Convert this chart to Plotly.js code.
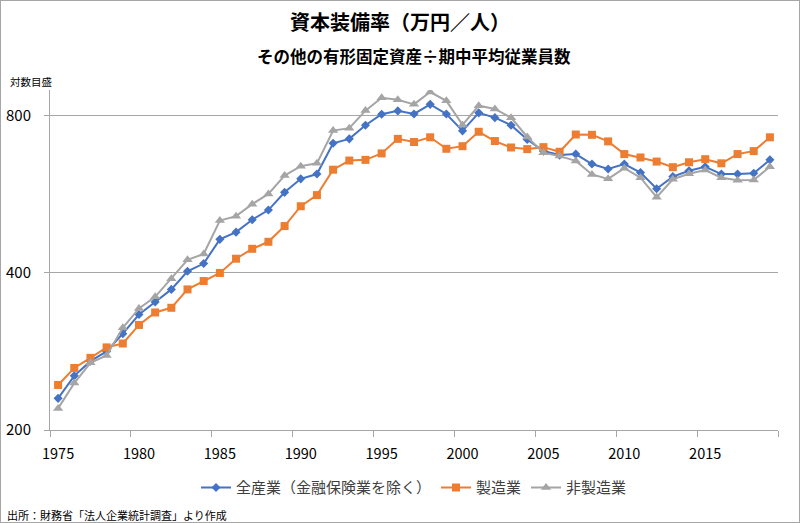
<!DOCTYPE html>
<html>
<head>
<meta charset="utf-8">
<script src="https://cdn.plot.ly/plotly-3.0.1.min.js"></script>
<style>
  html, body { margin: 0; padding: 0; background: #fff; }
  #chart { width: 798px; height: 521px; border: 1px solid #a6a6a6; }
</style>
</head>
<body>
<div id="chart"></div>
<script>
const years = [1975,1976,1977,1978,1979,1980,1981,1982,1983,1984,1985,1986,1987,1988,1989,1990,1991,1992,1993,1994,1995,1996,1997,1998,1999,2000,2001,2002,2003,2004,2005,2006,2007,2008,2009,2010,2011,2012,2013,2014,2015,2016,2017,2018,2019];

const allIndustry = [230,254,271,283,306,333,352,372,403,417,464,479,506,528,571,606,619,709,723,768,806,818,807,842,807,749,811,794,768,721,685,673,676,647,633,647,623,580,612,628,639,619,619,621,659];

const manufacturing = [244,263,275,288,293,318,336,343,372,386,400,426,445,459,492,537,564,631,657,659,678,723,713,728,692,700,746,716,696,691,697,683,737,736,715,676,666,654,638,652,661,649,676,685,728];

const nonManufacturing = [220,246,269,278,314,342,360,390,424,435,504,514,542,567,615,641,649,750,758,819,867,859,842,889,855,769,837,825,794,729,680,670,656,618,606,635,609,559,605,620,630,609,602,603,639];

const seriesNames = ['全産業（金融保険業を除く）', '製造業', '非製造業'];
const yTickVals = [200, 400, 800];
const xLabelYears = [1975,1980,1985,1990,1995,2000,2005,2010,2015];
const xTickMarks = [1974.5,1979.5,1984.5,1989.5,1994.5,1999.5,2004.5,2009.5,2014.5,2019.5];

const font = '"Noto Sans CJK JP", "Noto Sans", sans-serif';

const traces = [
  {x: years, y: allIndustry, name: seriesNames[0], type: 'scatter', mode: 'lines+markers',
   line: {color: '#4472C4', width: 2}, marker: {symbol: 'diamond', size: 7, color: '#4472C4'}},
  {x: years, y: manufacturing, name: seriesNames[1], type: 'scatter', mode: 'lines+markers',
   line: {color: '#ED7D31', width: 2}, marker: {symbol: 'square', size: 8, color: '#ED7D31'}},
  {x: years, y: nonManufacturing, name: seriesNames[2], type: 'scatter', mode: 'lines+markers',
   line: {color: '#A5A5A5', width: 2}, marker: {symbol: 'triangle-up', size: 9, color: '#A5A5A5'}},
  {x: [years[0]], y: [allIndustry[0]], xaxis: 'x2', type: 'scatter', mode: 'markers',
   marker: {opacity: 0}, showlegend: false, hoverinfo: 'skip'}
];

const layout = {
  width: 798, height: 521,
  margin: {l: 49, r: 21, t: 89, b: 92},
  paper_bgcolor: '#ffffff', plot_bgcolor: '#ffffff',
  font: {family: font, size: 13, color: '#404040'},
  title: {text: '<b>資本装備率（万円／人）</b>', x: 0.5, xanchor: 'center', y: 0.958, yanchor: 'middle',
          font: {family: font, size: 20, color: '#000000'}},
  xaxis: {
    type: 'linear', range: [1974.5, 2019.5], tickmode: 'array', tickvals: xLabelYears,
    ticktext: xLabelYears.map(String), ticks: '', showgrid: false, zeroline: false,
    showline: true, linecolor: '#a6a6a6', linewidth: 1,
    tickfont: {family: font, size: 14.5, color: '#000000'}, ticklabelstandoff: 11
  },
  xaxis2: {
    type: 'linear', range: [1974.5, 2019.5], overlaying: 'x', side: 'bottom', anchor: 'y',
    tickmode: 'array', tickvals: xTickMarks, ticks: 'outside', ticklen: 6, tickcolor: '#a6a6a6',
    showticklabels: false, showgrid: false, zeroline: false, showline: false
  },
  yaxis: {
    type: 'log', range: [Math.log10(200), Math.log10(897)], tickmode: 'array', tickvals: yTickVals,
    ticktext: yTickVals.map(String), ticks: 'outside', ticklen: 5, tickcolor: '#a6a6a6',
    showgrid: true, gridcolor: '#a6a6a6', gridwidth: 1, zeroline: false,
    showline: true, linecolor: '#a6a6a6', linewidth: 1,
    tickfont: {family: font, size: 15, color: '#000000'}, ticklabelstandoff: 10
  },
  legend: {
    orientation: 'h', x: 0.5, xanchor: 'center', y: -0.17, yanchor: 'middle',
    font: {family: font, size: 15, color: '#404040'}, itemwidth: 30, tracegroupgap: 0
  },
  annotations: [
    {text: '<b>その他の有形固定資産÷期中平均従業員数</b>', xref: 'paper', yref: 'paper',
     x: 0.5, xanchor: 'center', y: 1, yshift: 34, yanchor: 'middle', showarrow: false,
     font: {family: font, size: 16.5, color: '#000000'}},
    {text: '対数目盛', xref: 'paper', yref: 'paper', x: 0, xshift: -42, xanchor: 'left',
     y: 1, yshift: 9, yanchor: 'middle', showarrow: false,
     font: {family: font, size: 10.5, color: '#000000'}},
    {text: '出所：財務省「法人企業統計調査」より作成', xref: 'paper', yref: 'paper',
     x: 0, xshift: -45, xanchor: 'left', y: 0, yshift: -85, yanchor: 'middle', showarrow: false,
     font: {family: font, size: 11, color: '#000000'}}
  ],
  showlegend: true
};

Plotly.newPlot('chart', traces, layout, {displayModeBar: false, staticPlot: true});
</script>
</body>
</html>
